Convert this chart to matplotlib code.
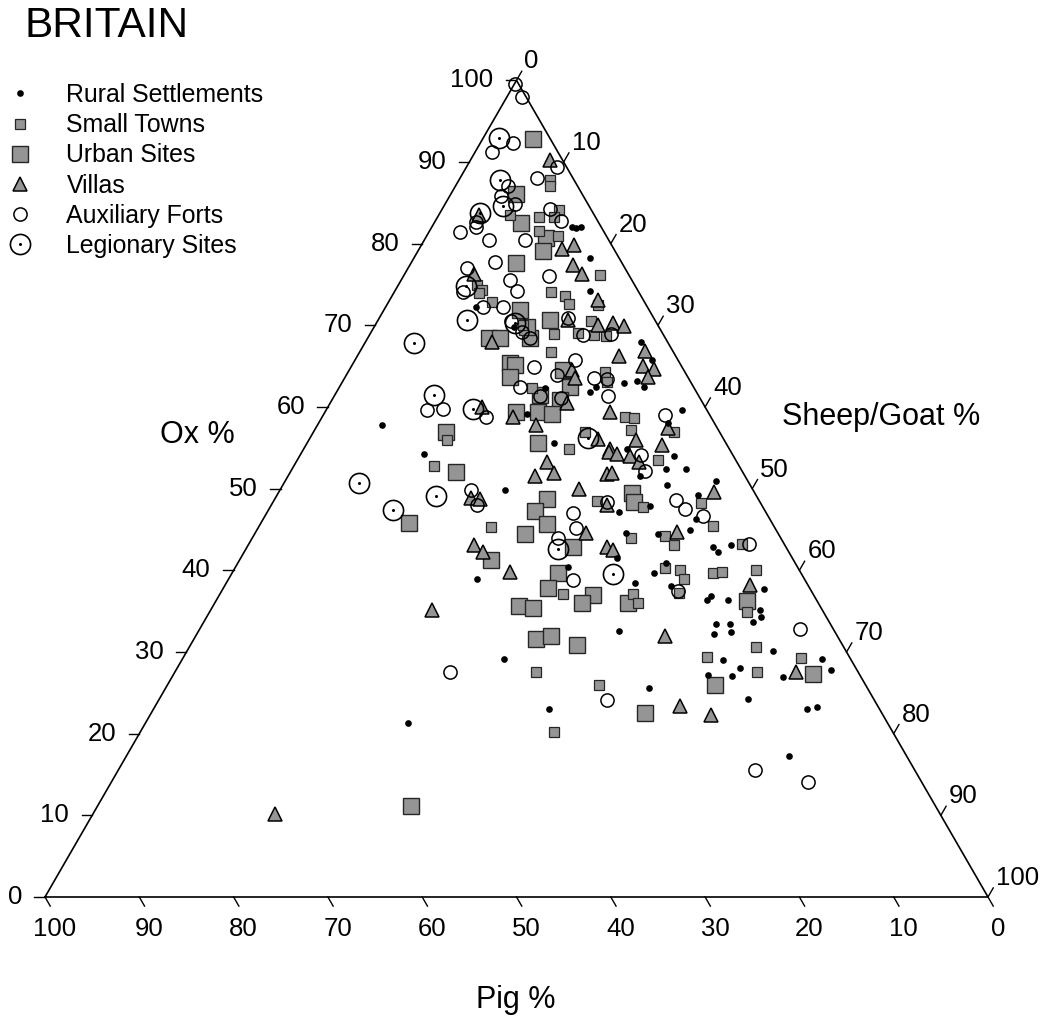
import numpy as np
import matplotlib
matplotlib.use("Agg")
import matplotlib.pyplot as plt
from matplotlib.lines import Line2D

plt.rcParams['font.family'] = ['Liberation Sans', 'DejaVu Sans']

# (ox %, pig %) per site, sheep/goat % is the rest
rural_ox = [82.0, 81.9, 82.0, 78.3, 74.2, 72.3, 69.8, 68.0, 65.8, 63.0, 63.2, 62.4, 62.4, 61.8, 62.3,
            59.2, 59.6, 58.1, 55.6, 54.9, 57.8, 54.2, 49.8, 38.9, 54.0, 52.4, 52.4, 51.6, 50.5, 51.0,
            47.9, 47.2, 49.2, 46.3, 44.6, 44.4, 44.9, 41.5, 42.8, 42.3, 43.1, 40.4, 40.9, 39.7, 38.1,
            38.4, 36.4, 36.9, 36.4, 37.7, 35.1, 34.3, 33.7, 33.4, 33.4, 32.5, 32.2, 30.1, 29.0, 29.1,
            28.1, 27.1, 27.2, 26.9, 27.8, 25.6, 24.2, 23.0, 23.3, 17.3, 21.3, 32.6, 29.2, 23.0]
rural_pig = [3.1, 2.7, 2.2, 3.1, 5.1, 18.1, 15.4, 2.8, 2.7, 7.1, 5.6, 5.3, 10.4, 11.3, 15.8,
             19.3, 2.6, 4.9, 18.2, 10.8, 35.4, 32.7, 26.3, 34.7, 6.3, 7.9, 5.8, 11.1, 8.8, 3.3,
             11.9, 15.5, 6.1, 7.8, 16.1, 12.8, 9.2, 18.6, 7.8, 7.5, 5.7, 24.3, 13.7, 15.6, 14.6,
             18.2, 11.6, 10.9, 9.4, 4.9, 6.6, 6.9, 8.1, 12.1, 10.7, 11.0, 13.0, 7.7, 13.6, 3.1,
             12.3, 13.6, 16.1, 8.3, 2.8, 23.1, 13.3, 7.7, 6.5, 12.5, 50.9, 22.8, 36.7, 35.1]

town_ox = [83.5, 87.8, 87.1, 84.1, 83.3, 83.3, 81.5, 80.9, 76.2, 74.1, 72.5, 73.6, 72.6, 70.5, 69.1,
           68.8, 68.7, 68.9, 66.7, 64.3, 63.1, 62.3, 56.9, 58.8, 58.6, 57.2, 57.0, 54.9, 74.9, 74.3,
           73.9, 72.9, 56.0, 52.8, 45.3, 53.5, 47.8, 48.5, 48.2, 45.4, 44.0, 44.2, 43.1, 37.1, 37.1,
           36.0, 40.3, 40.0, 39.0, 37.2, 39.7, 39.8, 43.2, 40.0, 34.9, 30.6, 29.4, 29.3, 27.6, 27.5,
           26.0, 20.2, 70.0]
town_pig = [8.9, 2.5, 2.9, 3.4, 6.0, 4.4, 6.9, 5.2, 3.0, 9.3, 5.1, 8.1, 8.1, 6.9, 8.9,
            7.4, 6.2, 11.6, 13.0, 8.5, 8.8, 17.2, 4.8, 9.1, 8.2, 9.3, 14.2, 17.0, 16.7, 16.5,
            17.0, 16.1, 29.4, 32.4, 30.1, 8.2, 12.7, 17.2, 6.3, 6.5, 15.9, 12.2, 11.7, 26.5, 19.1,
            19.1, 14.1, 12.7, 12.7, 14.2, 9.3, 8.3, 4.5, 4.6, 8.1, 9.3, 15.1, 5.2, 10.7, 34.2,
            28.2, 35.9, 14.3]

urban_ox = [92.8, 86.1, 82.5, 77.6, 80.7, 79.1, 71.9, 70.6, 68.4, 69.8, 68.5, 68.5, 65.4, 65.1, 63.7,
            64.5, 62.5, 61.5, 60.9, 59.4, 59.2, 59.4, 57.0, 52.1, 45.8, 44.4, 41.3, 35.6, 55.6, 49.5,
            48.4, 48.7, 47.3, 45.7, 42.9, 39.7, 37.8, 37.0, 36.0, 36.0, 35.4, 36.3, 26.0, 27.3, 22.5,
            31.6, 31.9, 30.8, 11.1]
urban_pig = [1.9, 7.0, 8.3, 11.2, 6.5, 7.6, 13.7, 11.2, 14.4, 14.0, 18.7, 17.5, 18.0, 17.6, 18.8,
             12.8, 13.1, 16.8, 14.9, 18.0, 16.6, 20.3, 29.0, 30.4, 38.5, 26.9, 32.1, 31.9, 19.9, 13.0,
             13.3, 22.4, 24.4, 23.9, 22.6, 25.7, 27.8, 23.4, 25.1, 20.2, 30.6, 7.4, 15.9, 4.9, 25.1,
             32.1, 30.4, 28.2, 55.6]

villa_ox = [83.5, 90.3, 79.4, 79.8, 77.4, 76.3, 73.1, 70.7, 70.1, 70.3, 69.9, 66.9, 66.2, 65.0, 64.7,
            63.7, 64.5, 63.5, 59.4, 60.5, 57.8, 57.4, 56.0, 56.1, 55.4, 54.9, 76.3, 68.0, 60.0, 58.8,
            48.8, 48.7, 43.1, 42.2, 39.8, 35.2, 54.5, 54.2, 54.0, 53.3, 53.3, 51.5, 51.9, 51.8, 51.9,
            49.6, 50.0, 48.0, 44.6, 44.7, 42.8, 42.5, 38.2, 31.9, 27.6, 23.4, 22.3, 10.2]
villa_pig = [12.2, 1.3, 5.5, 4.0, 5.3, 4.9, 4.8, 9.2, 6.3, 4.6, 3.6, 2.9, 6.0, 4.1, 3.1,
             4.2, 11.9, 12.0, 10.4, 14.4, 19.0, 5.2, 9.3, 13.3, 6.9, 12.6, 16.4, 18.6, 23.7, 21.0,
             30.4, 29.5, 33.0, 32.4, 30.8, 41.4, 12.9, 12.2, 11.0, 10.4, 20.1, 22.3, 20.1, 14.5, 13.9,
             4.3, 18.4, 16.4, 20.3, 10.6, 19.0, 18.5, 6.1, 18.3, 6.6, 21.0, 18.2, 70.5]

aux_ox = [99.6, 97.9, 92.3, 91.2, 87.1, 85.8, 84.9, 82.7, 82.1, 81.4, 80.5, 80.5, 77.7, 77.0, 89.4,
          88.1, 84.2, 82.8, 76.1, 75.5, 74.2, 74.1, 72.3, 72.3, 70.5, 70.9, 68.8, 68.9, 69.2, 65.8,
          64.9, 63.9, 63.5, 63.4, 62.5, 61.4, 61.3, 61.1, 59.0, 59.6, 59.7, 58.8, 49.8, 48.0, 54.1,
          52.2, 48.4, 48.6, 47.5, 46.7, 47.0, 45.2, 43.9, 38.8, 37.5, 43.2, 32.8, 15.6, 14.1, 27.6,
          24.1, 68.5]
aux_pig = [0.4, 0.5, 4.2, 7.0, 7.4, 8.7, 7.7, 12.9, 13.2, 15.3, 12.7, 8.8, 13.4, 16.8, 1.0,
           3.8, 4.3, 3.9, 8.5, 12.9, 12.8, 18.6, 17.4, 15.3, 15.3, 9.1, 8.6, 5.5, 14.8, 10.9,
           15.7, 13.8, 10.0, 8.7, 18.4, 16.8, 9.6, 14.7, 4.7, 29.7, 27.9, 23.8, 29.9, 30.2, 9.8,
           10.3, 16.2, 8.8, 8.4, 6.9, 20.5, 21.1, 23.7, 24.6, 14.1, 3.7, 3.5, 16.9, 12.0, 43.2,
           28.3, 14.3]

legion_ox = [92.9, 87.8, 84.6, 83.8, 74.8, 70.6, 70.3, 67.8, 61.5, 59.8, 50.7, 49.1, 47.4, 42.6, 39.6, 56.2]
legion_pig = [5.4, 7.9, 9.1, 12.0, 18.0, 19.9, 15.0, 27.0, 28.0, 24.7, 41.3, 34.0, 39.4, 24.3, 20.0, 14.3]

ticks = list(range(0, 101, 10))

H = np.sqrt(3) / 2


def tern(ox, pig):
    ox = np.asarray(ox) / 100.0
    pig = np.asarray(pig) / 100.0
    sheep = 1 - ox - pig
    return sheep + ox / 2, ox * H


fig = plt.figure(figsize=(10.42, 10.17), dpi=100)
ax = fig.add_axes([0, 0, 1, 1])
ax.set_xlim(-45 / 943, 997 / 943)
ax.set_ylim(-120 / 943, 897 / 943)
ax.axis('off')

# triangle frame
ax.plot([0, 1, 0.5, 0], [0, 0, H, 0], color='black', lw=1.2, zorder=1, solid_joinstyle='miter')

tl = 10.5 / 943
fs_tick = 18.5
for t in ticks:
    f = t / 100.0
    # ox axis (left side)
    x0, y0 = f / 2, f * H
    ax.plot([x0 - tl, x0], [y0, y0], color='black', lw=1.0)
    ax.text(x0 - 23 / 943, y0 - 7 / 943, str(t), ha='right', va='baseline', fontsize=fs_tick)
    # pig axis (bottom)
    xb = 1 - f
    ax.plot([xb, xb + tl * 0.5], [0, -tl * H], color='black', lw=1.0)
    ax.text(xb + 10 / 943, -38.5 / 943, str(t), ha='center', va='baseline', fontsize=fs_tick)
    # sheep/goat axis (right side)
    xr, yr = 0.5 + f / 2, (1 - f) * H
    ax.plot([xr, xr + tl * 0.5], [yr, yr + tl * H], color='black', lw=1.0)
    ax.text(xr + 8 / 943, yr + 12 / 943, str(t), ha='left', va='baseline', fontsize=fs_tick)

ax.text(-20 / 943, 860 / 943, 'BRITAIN', ha='left', va='baseline', fontsize=30.5)
ax.text(152 / 943, 454 / 943, 'Ox %', ha='center', va='baseline', fontsize=22)
ax.text(836 / 943, 472 / 943, 'Sheep/Goat %', ha='center', va='baseline', fontsize=22)
ax.text(471 / 943, -111 / 943, 'Pig %', ha='center', va='baseline', fontsize=22)

grey = '#959595'
edge = '#262626'

styles = {
    'urban': dict(marker='s', ms=12, mfc=grey, mec=edge, mew=1.0, ls='none'),
    'town': dict(marker='s', ms=7.2, mfc=grey, mec=edge, mew=0.9, ls='none'),
    'villa': dict(marker='^', ms=10, mfc=grey, mec='black', mew=1.1, ls='none'),
    'rural': dict(marker='o', ms=4.8, mfc='black', mec='black', mew=0, ls='none'),
    'aux': dict(marker='o', ms=9.5, mfc='none', mec='black', mew=1.1, ls='none'),
    'legion': dict(marker='o', ms=14.5, mfc='none', mec='black', mew=1.2, ls='none'),
    'ldot': dict(marker='o', ms=2.2, mfc='black', mec='black', mew=0, ls='none'),
}

x, y = tern(urban_ox, urban_pig)
ax.plot(x, y, zorder=3, **styles['urban'])
x, y = tern(town_ox, town_pig)
ax.plot(x, y, zorder=4, **styles['town'])
x, y = tern(villa_ox, villa_pig)
ax.plot(x, y, zorder=5, **styles['villa'])
x, y = tern(rural_ox, rural_pig)
ax.plot(x, y, zorder=6, **styles['rural'])
x, y = tern(aux_ox, aux_pig)
ax.plot(x, y, zorder=7, **styles['aux'])
x, y = tern(legion_ox, legion_pig)
ax.plot(x, y, zorder=8, **styles['legion'])
ax.plot(x, y, zorder=8, **styles['ldot'])

handles = [
    Line2D([], [], **styles['rural']),
    Line2D([], [], **styles['town']),
    Line2D([], [], **styles['urban']),
    Line2D([], [], **styles['villa']),
    Line2D([], [], **styles['aux']),
    (Line2D([], [], **styles['legion']), Line2D([], [], **styles['ldot'])),
]
labels = ['Rural Settlements', 'Small Towns', 'Urban Sites', 'Villas',
          'Auxiliary Forts', 'Legionary Sites']
fig.legend(handles, labels, loc='upper left', bbox_to_anchor=(8 / 1042, 1 - 83 / 1017),
           frameon=False, fontsize=17.9, handlelength=1.0, handletextpad=1.35,
           borderpad=0, borderaxespad=0, labelspacing=0.25, numpoints=1)

fig.savefig('out.png', dpi=100)
